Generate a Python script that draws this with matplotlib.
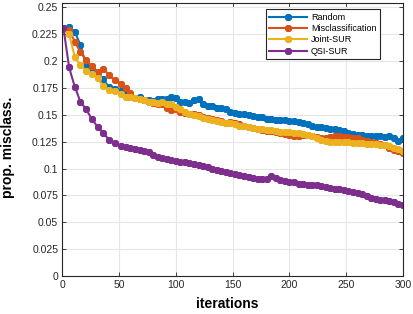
import matplotlib
matplotlib.use("Agg")
import matplotlib.pyplot as plt
import numpy as np

plt.rcParams['font.family'] = ['Liberation Sans', 'DejaVu Sans']

# iterations (sparser at the start, as in the reference)
iters = [1, 6, 11, 16, 21, 26, 31, 36, 41, 46] + list(range(52, 301, 4))

random_err = [0.231, 0.232, 0.227, 0.215, 0.196, 0.192, 0.190, 0.183, 0.176, 0.174,
              0.172, 0.168, 0.167, 0.166, 0.167, 0.164, 0.164, 0.163, 0.165, 0.165,
              0.165, 0.167, 0.166, 0.162, 0.162, 0.161, 0.164, 0.165, 0.160, 0.158,
              0.158, 0.156, 0.156, 0.155, 0.153, 0.152, 0.151, 0.151, 0.150, 0.149,
              0.148, 0.148, 0.146, 0.146, 0.145, 0.145, 0.145, 0.144, 0.144, 0.143,
              0.142, 0.141, 0.140, 0.139, 0.139, 0.138, 0.137, 0.137, 0.136, 0.135,
              0.133, 0.132, 0.131, 0.131, 0.130, 0.130, 0.130, 0.130, 0.129, 0.130,
              0.128, 0.126, 0.128]

miscl_err = [0.231, 0.229, 0.218, 0.208, 0.201, 0.195, 0.190, 0.193, 0.187, 0.182,
             0.179, 0.175, 0.170, 0.166, 0.165, 0.164, 0.162, 0.161, 0.160, 0.160,
             0.156, 0.154, 0.155, 0.153, 0.152, 0.151, 0.151, 0.150, 0.148, 0.147,
             0.146, 0.145, 0.144, 0.142, 0.143, 0.142, 0.141, 0.140, 0.139, 0.138,
             0.137, 0.136, 0.135, 0.135, 0.134, 0.133, 0.132, 0.131, 0.130, 0.130,
             0.131, 0.131, 0.130, 0.129, 0.128, 0.128, 0.129, 0.130, 0.130, 0.129,
             0.129, 0.128, 0.128, 0.127, 0.126, 0.125, 0.124, 0.123, 0.122, 0.119,
             0.117, 0.116, 0.114]

joint_err = [0.230, 0.225, 0.204, 0.196, 0.191, 0.188, 0.184, 0.177, 0.173, 0.172,
             0.169, 0.167, 0.167, 0.166, 0.165, 0.164, 0.162, 0.162, 0.161, 0.162,
             0.160, 0.160, 0.157, 0.155, 0.153, 0.151, 0.150, 0.149, 0.147, 0.146,
             0.145, 0.144, 0.143, 0.142, 0.142, 0.141, 0.140, 0.140, 0.139, 0.138,
             0.137, 0.137, 0.136, 0.136, 0.135, 0.134, 0.134, 0.134, 0.133, 0.133,
             0.132, 0.131, 0.130, 0.128, 0.127, 0.126, 0.125, 0.125, 0.125, 0.125,
             0.125, 0.124, 0.124, 0.124, 0.123, 0.123, 0.123, 0.122, 0.122, 0.121,
             0.119, 0.118, 0.116]

qsi_err = [0.231, 0.194, 0.176, 0.162, 0.155, 0.146, 0.139, 0.133, 0.127, 0.124,
           0.121, 0.120, 0.119, 0.118, 0.117, 0.116, 0.115, 0.113, 0.111, 0.110,
           0.109, 0.108, 0.107, 0.106, 0.106, 0.105, 0.104, 0.103, 0.102, 0.101,
           0.100, 0.099, 0.098, 0.097, 0.096, 0.095, 0.094, 0.093, 0.092, 0.091,
           0.090, 0.090, 0.090, 0.093, 0.091, 0.089, 0.088, 0.087, 0.087, 0.086,
           0.086, 0.085, 0.085, 0.085, 0.084, 0.083, 0.082, 0.081, 0.081, 0.080,
           0.079, 0.078, 0.077, 0.076, 0.074, 0.073, 0.072, 0.071, 0.071, 0.070,
           0.069, 0.067, 0.066]

labels = ['Random', 'Misclassification', 'Joint-SUR', 'QSI-SUR']
colors = ['#0072BD', '#D95319', '#EDB120', '#7E2F8E']
series = [random_err, miscl_err, joint_err, qsi_err]

fig = plt.figure(figsize=(4.14, 3.14), dpi=100)
ax = fig.add_axes([62.3/414, 1 - 276/314, (403 - 62.3)/414, (276 - 3)/314])

for y, c, lab in zip(series, colors, labels):
    ax.plot(iters, y, color=c, lw=1.5, marker=(8, 2, 0), ms=5, mew=1.4,
            label=lab)

ax.set_xlim(0, 300)
ax.set_ylim(0, 0.254)
ax.set_xticks(np.arange(0, 301, 50))
yt = np.arange(0, 0.2501, 0.025)
ax.set_yticks(yt)
ax.set_yticklabels(['{:g}'.format(round(v, 3)) for v in yt])

axc = '#262626'
ax.grid(True, color='#e6e6e6', lw=0.8)
ax.set_axisbelow(True)
for s in ax.spines.values():
    s.set_color(axc)
    s.set_linewidth(0.8)
ax.tick_params(direction='in', top=True, right=True, length=3, width=0.6,
               colors=axc, labelsize=7.5, labelcolor='#262626', pad=3)

ax.set_xlabel('iterations', fontsize=10, fontweight='bold')
ax.set_ylabel('prop. misclass.', fontsize=10, fontweight='bold')
ax.xaxis.set_label_coords(0.485, -0.078)
ax.yaxis.set_label_coords(-0.138, 0.47)

leg = ax.legend(loc='upper right', bbox_to_anchor=(380/414, 1 - 9.3/314),
                bbox_transform=fig.transFigure, borderaxespad=0,
                fancybox=False, fontsize=6.5, handlelength=4.2,
                labelspacing=0.25, borderpad=0.4, handletextpad=0.4,
                framealpha=1)
leg.get_frame().set_edgecolor(axc)
leg.get_frame().set_linewidth(0.8)

fig.savefig('out.png', dpi=100)
